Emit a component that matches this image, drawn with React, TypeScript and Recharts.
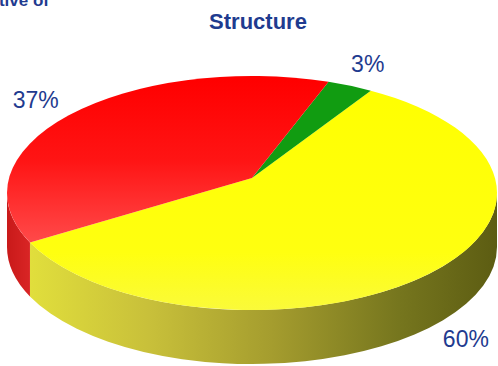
import { PieChart, Pie } from 'recharts'

const segments = ['Yellow', 'Green', 'Red']
const shares = [60, 3, 37]
const shareLabels = ['60%', '3%', '37%']

const topFills = ['url(#yellowTop)', '#119c11', 'url(#redTop)']
const sideFills = ['url(#yellowSide)', '#0b700b', 'url(#redSide)']

const data = segments.map((name, i) => ({ name, value: shares[i], label: shareLabels[i], idx: i }))

const W = 498
const H = 366
const RY_RATIO = 117 / 245
const DEPTH = 54
const APEX_SHIFT = -15
const TEXT_BLUE = '#1f3b8f'

const rad = (a: number) => (a * Math.PI) / 180

function pt(cx: number, cy: number, rx: number, ry: number, a: number, dy = 0) {
  return [cx + rx * Math.cos(rad(a)), cy - ry * Math.sin(rad(a)) + dy]
}

// parts of a slice that face the viewer (lower half of the ellipse)
function frontParts(s: number, e: number) {
  const out: Array<[number, number]> = []
  for (const [lo, hi] of [[-180, 0], [180, 360]]) {
    const a = Math.max(s, lo)
    const b = Math.min(e, hi)
    if (b > a) out.push([a, b])
  }
  return out
}

function EllipseSlice(props: any) {
  const { cx, cy, outerRadius, startAngle, endAngle, payload } = props
  const rx = outerRadius
  const ry = outerRadius * RY_RATIO
  const idx = payload?.idx ?? props.index ?? 0
  const s = Math.min(startAngle, endAngle)
  const e = Math.max(startAngle, endAngle)
  const [x1, y1] = pt(cx, cy, rx, ry, s)
  const [x2, y2] = pt(cx, cy, rx, ry, e)
  const large = e - s > 180 ? 1 : 0
  const top = `M${cx},${cy + APEX_SHIFT} L${x1},${y1} A${rx},${ry} 0 ${large} 0 ${x2},${y2} Z`
  const sides = frontParts(s, e).map(([a, b]) => {
    const [ax, ay] = pt(cx, cy, rx, ry, a)
    const [bx, by] = pt(cx, cy, rx, ry, b)
    return `M${ax},${ay} A${rx},${ry} 0 0 0 ${bx},${by} L${bx},${by + DEPTH} A${rx},${ry} 0 0 1 ${ax},${ay + DEPTH} Z`
  })
  return (
    <g>
      {sides.map((d, k) => (
        <path key={k} d={d} fill={sideFills[idx]} stroke="none" />
      ))}
      <path d={top} fill={topFills[idx]} stroke="none" />
    </g>
  )
}

function SliceLabel(props: any) {
  const { cx, cy, outerRadius, midAngle, payload } = props
  const rx = outerRadius
  const ry = outerRadius * RY_RATIO
  const sin = Math.sin(rad(midAngle))
  const front = sin < 0
  const x = cx + rx * (front ? 1.28 : 1.18) * Math.cos(rad(midAngle))
  const y = cy - ry * (front ? 1.08 : 1.2) * sin + (front ? DEPTH : 0)
  return (
    <text
      x={x}
      y={y}
      textAnchor="middle"
      dominantBaseline="central"
      fill={TEXT_BLUE}
      style={{ fontSize: 23, fontFamily: 'Liberation Sans, Arial, sans-serif' }}
    >
      {payload?.label}
    </text>
  )
}

export default function App() {
  return (
    <div style={{ position: 'absolute', left: 0, top: 0, width: W, height: H, background: '#fff', overflow: 'hidden' }}>
      <div
        style={{
          position: 'absolute',
          left: -37,
          top: -9,
          fontFamily: 'Liberation Sans, Arial, sans-serif',
          fontWeight: 'bold',
          fontSize: 17,
          color: TEXT_BLUE,
          whiteSpace: 'nowrap'
        }}
      >
        Relative of
      </div>
      <div
        style={{
          position: 'absolute',
          left: 0,
          width: 516,
          top: 9,
          textAlign: 'center',
          fontFamily: 'Liberation Sans, Arial, sans-serif',
          fontWeight: 'bold',
          fontSize: 22,
          color: TEXT_BLUE
        }}
      >
        Structure
      </div>
      <PieChart width={W} height={H} margin={{ top: 0, right: 0, bottom: 0, left: 0 }}>
        <defs>
          <linearGradient id="yellowTop" x1="0" y1="80" x2="0" y2="310" gradientUnits="userSpaceOnUse">
            <stop offset="0" stopColor="#ffff00" />
            <stop offset="0.75" stopColor="#ffff10" />
            <stop offset="1" stopColor="#fafa3a" />
          </linearGradient>
          <linearGradient id="redTop" x1="0" y1="80" x2="0" y2="240" gradientUnits="userSpaceOnUse">
            <stop offset="0" stopColor="#ff0000" />
            <stop offset="0.5" stopColor="#ff1414" />
            <stop offset="1" stopColor="#ff4848" />
          </linearGradient>
          <linearGradient id="yellowSide" x1="0" y1="0" x2={W} y2="0" gradientUnits="userSpaceOnUse">
            <stop offset="0.03" stopColor="#e4e23c" />
            <stop offset="0.3" stopColor="#c8c03a" />
            <stop offset="0.55" stopColor="#a49c2e" />
            <stop offset="0.8" stopColor="#76761e" />
            <stop offset="1" stopColor="#5c5c12" />
          </linearGradient>
          <linearGradient id="redSide" x1="0" y1="0" x2="40" y2="0" gradientUnits="userSpaceOnUse">
            <stop offset="0" stopColor="#c41616" />
            <stop offset="1" stopColor="#e02a2a" />
          </linearGradient>
        </defs>
        <Pie
          data={data}
          dataKey="value"
          nameKey="name"
          cx={252}
          cy={193}
          innerRadius={0}
          outerRadius={245}
          startAngle={-155}
          endAngle={205}
          stroke="none"
          shape={EllipseSlice}
          label={SliceLabel}
          labelLine={false}
          isAnimationActive={false}
        />
      </PieChart>
    </div>
  )
}
